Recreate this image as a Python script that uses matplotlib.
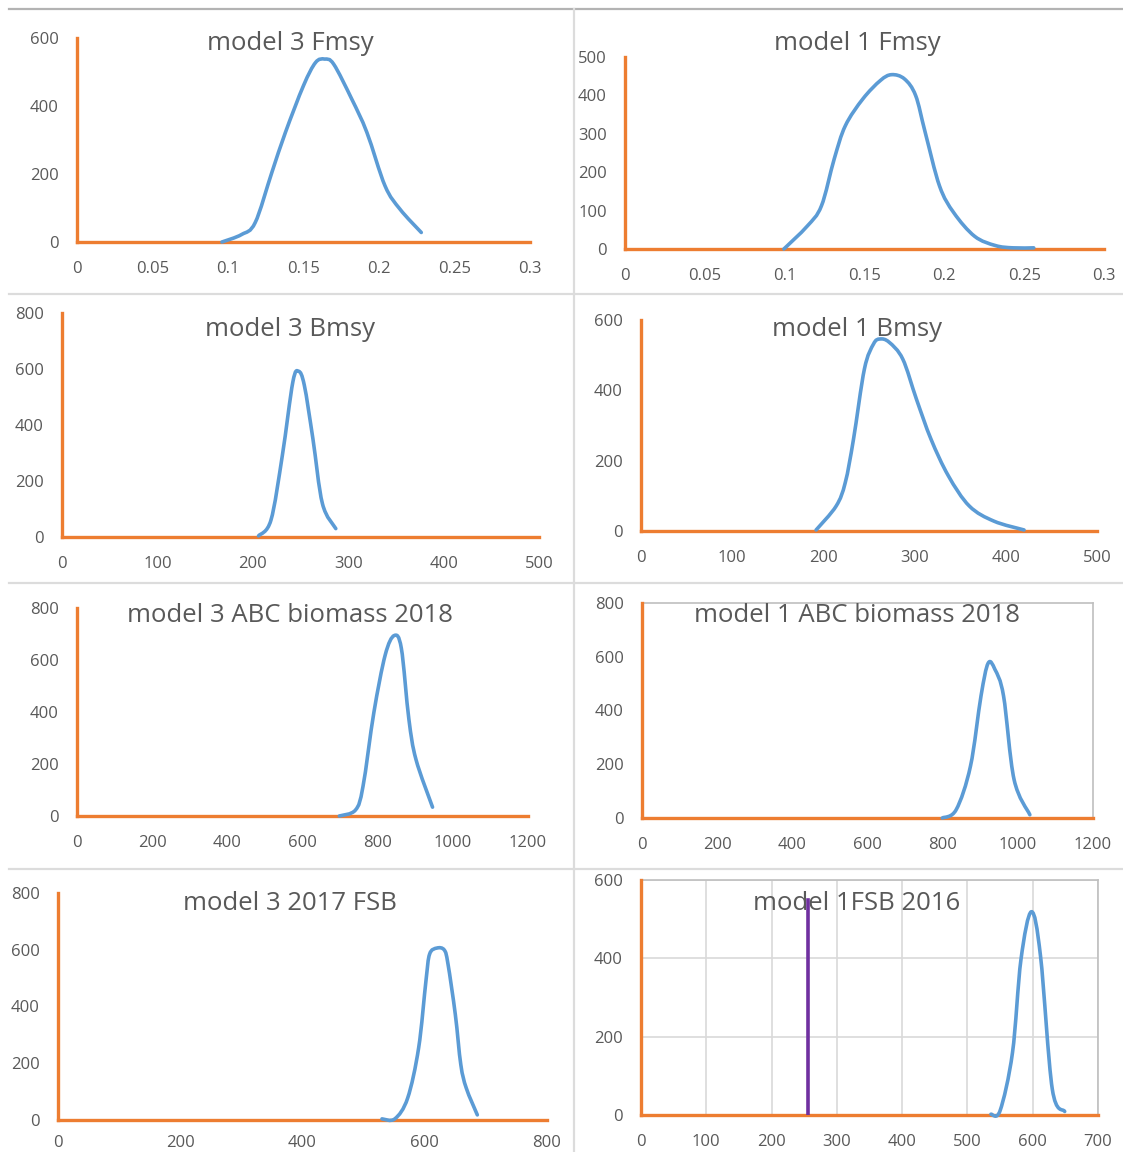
import numpy as np
import matplotlib
matplotlib.use("Agg")
import matplotlib.pyplot as plt
from matplotlib.lines import Line2D
from matplotlib.path import Path
from matplotlib.patches import PathPatch
from matplotlib.ticker import FuncFormatter

# Posterior density panels, model 3 vs model 1

W, H = 1123, 1152
ORANGE = "#ED7D31"
BLUE = "#5B9BD5"
PURPLE = "#7030A0"
TXT = "#595959"

plt.rcParams["font.family"] = ["Open Sans", "DejaVu Sans"]

# data
m3_fmsy_x = [0.096, 0.109, 0.118, 0.129, 0.138, 0.150, 0.158, 0.164, 0.170, 0.182, 0.192, 0.204, 0.214, 0.228]
m3_fmsy_y = [0, 22, 57, 204, 322, 460, 528, 538, 523, 420, 322, 165, 96, 28]

m1_fmsy_x = [0.0995, 0.114, 0.123, 0.131, 0.138, 0.149, 0.160, 0.167, 0.175, 0.182, 0.188, 0.197, 0.206, 0.219, 0.232, 0.243, 0.256]
m1_fmsy_y = [0, 59, 112, 234, 321, 391, 439, 454, 443, 400, 304, 164, 94, 33, 9, 3, 3]

m3_bmsy_x = [206, 219, 231, 242, 248, 254, 263, 273, 287]
m3_bmsy_y = [4, 60, 292, 554, 592, 542, 351, 119, 30]

m1_bmsy_x = [192, 214, 224, 233, 245, 255, 262, 272, 287, 302, 318, 337, 360, 387, 420]
m1_bmsy_y = [3, 71, 138, 261, 461, 532, 546, 537, 489, 375, 261, 157, 71, 28, 3]

m3_abc_x = [698, 741, 761, 790, 820, 844, 863, 883, 902, 946]
m3_abc_y = [0, 23, 114, 399, 619, 694, 645, 373, 217, 34]

m1_abc_x = [799, 836, 874, 902, 921, 939, 962, 990, 1032]
m1_abc_y = [0, 31, 193, 454, 576, 553, 454, 143, 12]

m3_fsb_x = [530, 551, 572, 590, 602, 608, 620, 632, 638, 650, 659, 668, 686]
m3_fsb_y = [4, 4, 77, 254, 491, 585, 606, 599, 550, 372, 195, 112, 18]

m1_fsb_x = [536, 550, 569, 582, 598, 612, 630, 649]
m1_fsb_y = [2, 11, 159, 397, 519, 405, 66, 9]

m1_fsb_ref_x = 256
m1_fsb_ref_top = 550

titles = ["model 3 Fmsy", "model 1 Fmsy", "model 3 Bmsy", "model 1 Bmsy",
          "model 3 ABC biomass 2018", "model 1 ABC biomass 2018",
          "model 3 2017 FSB", "model 1FSB 2016"]

# panel layout in pixels: left, top, right, bottom, title centre
panels = [
    dict(x=m3_fmsy_x, y=m3_fmsy_y, xt=[0, 0.05, 0.1, 0.15, 0.2, 0.25, 0.3], yt=[0, 200, 400, 600],
         box=(77, 38, 530, 242), tpos=(290, 43)),
    dict(x=m1_fmsy_x, y=m1_fmsy_y, xt=[0, 0.05, 0.1, 0.15, 0.2, 0.25, 0.3], yt=[0, 100, 200, 300, 400, 500],
         box=(625, 57, 1104, 249), tpos=(857, 43)),
    dict(x=m3_bmsy_x, y=m3_bmsy_y, xt=[0, 100, 200, 300, 400, 500], yt=[0, 200, 400, 600, 800],
         box=(62, 313, 539, 537), tpos=(290, 330)),
    dict(x=m1_bmsy_x, y=m1_bmsy_y, xt=[0, 100, 200, 300, 400, 500], yt=[0, 200, 400, 600],
         box=(641, 320, 1097, 531), tpos=(857, 330)),
    dict(x=m3_abc_x, y=m3_abc_y, xt=[0, 200, 400, 600, 800, 1000, 1200], yt=[0, 200, 400, 600, 800],
         box=(77, 608, 528, 816), tpos=(290, 616)),
    dict(x=m1_abc_x, y=m1_abc_y, xt=[0, 200, 400, 600, 800, 1000, 1200], yt=[0, 200, 400, 600, 800],
         box=(642, 603, 1093, 818), tpos=(857, 616), frame=True),
    dict(x=m3_fsb_x, y=m3_fsb_y, xt=[0, 200, 400, 600, 800], yt=[0, 200, 400, 600, 800],
         box=(58, 893, 547, 1120), tpos=(290, 903), xpad=11),
    dict(x=m1_fsb_x, y=m1_fsb_y, xt=[0, 100, 200, 300, 400, 500, 600, 700], yt=[0, 200, 400, 600],
         box=(641, 880, 1098, 1115), tpos=(857, 903), frame=True, grid=True),
]


# smoothed line through the points, like a spreadsheet "smoothed line"
def smooth_path(xs, ys):
    pts = np.column_stack([xs, ys]).astype(float)
    n = len(pts)
    verts = [pts[0]]
    codes = [Path.MOVETO]
    for k in range(n - 1):
        p0 = pts[max(k - 1, 0)]
        p1 = pts[k]
        p2 = pts[k + 1]
        p3 = pts[min(k + 2, n - 1)]
        verts += [p1 + (p2 - p0) / 6, p2 - (p3 - p1) / 6, p2]
        codes += [Path.CURVE4] * 3
    return Path(verts, codes)


fig = plt.figure(figsize=(W / 100, H / 100), dpi=100)

# separators between panels
fig.add_artist(Line2D([9 / W, 1], [1 - 9 / H] * 2, color="#b3b3b3", lw=1.6))
for yy in [294, 583, 869]:
    fig.add_artist(Line2D([9 / W, 1], [1 - yy / H] * 2, color="#dcdcdc", lw=1.6))
fig.add_artist(Line2D([574 / W] * 2, [0, 1 - 9 / H], color="#dcdcdc", lw=1.6))

fmt = FuncFormatter(lambda v, p: f"{v:g}")

for i, p in enumerate(panels):
    l, t, r, b = p["box"]
    ax = fig.add_axes([l / W, 1 - b / H, (r - l) / W, (b - t) / H])
    ax.set_xlim(0, p["xt"][-1])
    ax.set_ylim(0, p["yt"][-1])
    ax.set_xticks(p["xt"])
    ax.set_yticks(p["yt"])
    ax.xaxis.set_major_formatter(fmt)
    ax.tick_params(length=0, labelsize=12, labelcolor=TXT)
    ax.tick_params(axis="x", pad=p.get("xpad", 14))
    ax.tick_params(axis="y", pad=13)
    ax.patch.set_alpha(0)
    for s in ["top", "right"]:
        ax.spines[s].set_visible(p.get("frame", False))
        ax.spines[s].set_color("#bfbfbf")
        ax.spines[s].set_linewidth(1.2)
    for s in ["left", "bottom"]:
        ax.spines[s].set_color(ORANGE)
        ax.spines[s].set_linewidth(2.4)
        ax.spines[s].set_zorder(3)
    if p.get("grid"):
        ax.grid(True, color="#d9d9d9", lw=1.2)
        ax.set_axisbelow(True)
    curve = PathPatch(smooth_path(p["x"], p["y"]), fill=False, edgecolor=BLUE, lw=2.6,
                      capstyle="round", joinstyle="round", clip_on=False, zorder=4)
    ax.add_patch(curve)
    if i == 7:
        ax.plot([m1_fsb_ref_x, m1_fsb_ref_x], [0, m1_fsb_ref_top], color=PURPLE, lw=2.6, zorder=5)
    tx, ty = p["tpos"]
    ax.text(tx / W, 1 - ty / H, titles[i], transform=fig.transFigure, ha="center", va="center",
            fontsize=18.5, color=TXT, zorder=3)

fig.savefig("out.png", dpi=100)
